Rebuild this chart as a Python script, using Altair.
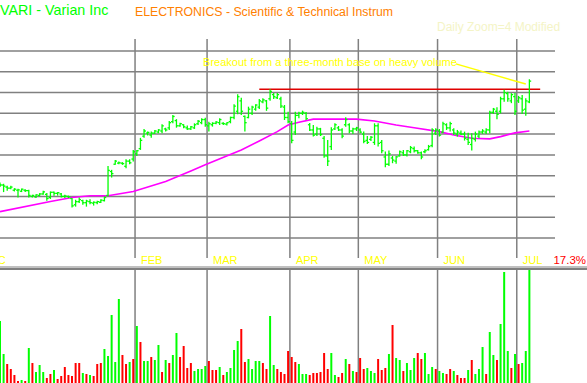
import altair as alt
import pandas as pd

# ---------------- data ----------------
high = [
    29.67, 29.61, 29.52, 29.51, 29.40, 29.37, 29.38, 29.35, 29.32, 29.08,
    29.11, 29.16, 29.27, 29.16, 29.24, 29.24, 29.21, 29.16, 29.08, 29.04,
    28.92, 28.84, 28.95, 28.84, 28.84, 28.87, 28.76, 28.79, 28.87, 29.00,
    30.47, 30.28, 30.75, 30.68, 30.65, 30.79, 30.79, 31.24, 31.24, 31.82,
    32.25, 32.12, 32.12, 32.20, 32.24, 32.48, 32.31, 32.63, 32.92, 32.72,
    32.55, 32.48, 32.41, 32.39, 32.52, 32.68, 32.76, 32.79, 32.60, 32.57,
    32.63, 32.76, 32.57, 32.57, 32.84, 33.44, 33.92, 33.75, 32.89, 33.32,
    33.37, 33.44, 33.69, 33.73, 33.64, 34.16, 33.98, 33.98, 33.80, 33.40,
    33.08, 32.63, 33.08, 33.08, 33.13, 33.07, 32.54, 32.44, 32.36, 32.30,
    31.91, 31.72, 32.33, 32.52, 32.39, 32.28, 32.81, 32.52, 32.31, 32.35,
    32.28, 32.12, 31.91, 31.91, 32.52, 32.52, 31.72, 31.16, 31.21, 30.95,
    30.95, 31.21, 31.24, 31.24, 31.43, 31.40, 31.24, 31.16, 31.27, 31.48,
    32.28, 32.28, 32.24, 32.60, 32.52, 32.60, 32.28, 32.20, 32.17, 32.12,
    32.07, 32.04, 32.12, 32.17, 32.24, 32.28, 33.13, 33.26, 33.29, 33.80,
    34.13, 34.04, 33.97, 33.98, 33.84, 33.88, 33.73, 34.64,
]
low = [
    29.45, 29.21, 29.27, 29.35, 29.24, 28.95, 29.21, 29.21, 28.95, 28.95,
    28.92, 29.00, 29.08, 28.79, 28.88, 29.03, 29.04, 28.95, 28.92, 28.92,
    28.47, 28.51, 28.68, 28.60, 28.51, 28.63, 28.56, 28.63, 28.68, 28.76,
    29.00, 29.91, 30.52, 30.55, 30.52, 30.36, 30.55, 30.68, 30.95, 31.24,
    31.82, 31.93, 31.83, 32.00, 32.04, 32.04, 32.12, 32.20, 32.52, 32.31,
    32.35, 32.28, 32.20, 32.20, 32.25, 32.44, 32.48, 32.36, 32.12, 32.36,
    32.48, 32.44, 32.44, 32.41, 32.52, 32.72, 32.96, 32.92, 32.12, 32.76,
    32.92, 33.12, 33.21, 33.49, 33.12, 33.60, 33.69, 33.69, 33.26, 32.68,
    32.52, 31.56, 31.96, 32.76, 32.92, 32.68, 32.15, 31.88, 31.91, 31.91,
    30.86, 30.47, 31.24, 32.20, 32.15, 31.80, 32.36, 32.04, 32.01, 32.15,
    32.04, 31.56, 31.53, 31.67, 31.48, 31.40, 31.08, 30.41, 30.47, 30.60,
    30.57, 30.92, 30.95, 30.92, 31.08, 31.11, 31.05, 30.79, 31.08, 31.21,
    31.37, 31.96, 31.88, 32.04, 32.20, 32.12, 31.96, 31.88, 31.96, 31.69,
    31.48, 31.21, 31.64, 31.80, 32.01, 32.01, 32.04, 32.97, 32.72, 33.00,
    33.56, 33.56, 33.49, 32.92, 33.50, 32.97, 32.88, 33.49,
]
open_ = [
    29.62, 29.55, 29.45, 29.40, 29.30, 29.30, 29.25, 29.30, 29.28, 29.00,
    28.98, 29.05, 29.12, 29.10, 28.95, 29.20, 29.15, 29.12, 29.00, 29.00,
    28.90, 28.60, 28.75, 28.80, 28.70, 28.75, 28.68, 28.70, 28.72, 28.80,
    29.05, 30.20, 30.55, 30.60, 30.60, 30.45, 30.70, 30.80, 31.05, 31.30,
    31.90, 32.05, 31.95, 32.05, 32.10, 32.15, 32.25, 32.30, 32.60, 32.65,
    32.40, 32.45, 32.30, 32.25, 32.30, 32.50, 32.55, 32.70, 32.40, 32.45,
    32.52, 32.55, 32.52, 32.48, 32.60, 32.80, 33.10, 33.60, 32.85, 32.80,
    33.00, 33.20, 33.30, 33.55, 33.60, 33.70, 33.90, 33.75, 33.70, 33.30,
    32.80, 32.50, 32.10, 32.90, 33.00, 33.00, 32.45, 32.20, 32.00, 32.25,
    31.80, 30.95, 31.40, 32.25, 32.30, 32.20, 32.45, 32.45, 32.15, 32.25,
    32.20, 32.00, 31.70, 31.75, 31.60, 32.40, 31.60, 30.90, 30.55, 30.85,
    30.70, 30.95, 31.10, 31.00, 31.15, 31.30, 31.20, 31.10, 31.15, 31.25,
    31.45, 32.05, 32.15, 32.10, 32.45, 32.30, 32.20, 32.00, 32.05, 32.00,
    31.75, 31.50, 31.75, 31.90, 32.10, 32.10, 32.20, 33.05, 33.10, 33.10,
    33.70, 33.95, 33.60, 33.80, 33.60, 33.70, 33.20, 33.55,
]
close = [
    29.55, 29.50, 29.40, 29.45, 29.35, 29.32, 29.35, 29.28, 29.05, 29.05,
    29.08, 29.12, 29.22, 28.90, 29.20, 29.15, 29.18, 29.00, 29.02, 28.98,
    28.55, 28.75, 28.85, 28.70, 28.78, 28.70, 28.72, 28.75, 28.82, 28.95,
    30.25, 30.10, 30.70, 30.62, 30.58, 30.70, 30.62, 31.15, 31.20, 31.70,
    32.15, 32.08, 32.05, 32.15, 32.20, 32.40, 32.20, 32.55, 32.85, 32.40,
    32.50, 32.35, 32.25, 32.35, 32.45, 32.62, 32.70, 32.45, 32.50, 32.52,
    32.58, 32.70, 32.50, 32.55, 32.80, 33.35, 33.80, 33.10, 32.55, 33.20,
    33.30, 33.40, 33.60, 33.65, 33.25, 34.05, 33.80, 33.90, 33.35, 32.80,
    32.60, 31.70, 32.90, 33.00, 33.05, 32.75, 32.20, 31.95, 32.25, 31.98,
    30.95, 30.70, 32.20, 32.45, 32.20, 31.90, 32.70, 32.15, 32.25, 32.30,
    32.10, 31.65, 31.60, 31.85, 32.40, 31.55, 31.20, 30.55, 31.05, 30.75,
    30.90, 31.15, 31.00, 31.20, 31.35, 31.20, 31.10, 30.90, 31.20, 31.40,
    32.20, 32.20, 31.95, 32.50, 32.30, 32.50, 32.05, 32.10, 32.00, 31.80,
    31.60, 31.80, 32.00, 32.10, 32.15, 32.20, 33.05, 33.20, 32.95, 33.70,
    34.00, 33.70, 33.90, 33.10, 33.75, 33.15, 33.60, 34.55,
]
# daily volume (thousand shares)
volume = [
    620, 290, 190, 140, 80, 20, 30, 20, 350, 200,
    110, 180, 110, 50, 90, 130, 40, 70, 160, 80,
    70, 200, 200, 100, 90, 80, 70, 190, 200, 340,
    270, 680, 210, 840, 280, 190, 210, 240, 570, 410,
    220, 220, 260, 230, 380, 110, 230, 200, 280, 500,
    260, 370, 150, 200, 120, 140, 140, 170, 220, 130,
    130, 160, 80, 110, 150, 330, 420, 540, 210, 240,
    140, 220, 220, 200, 140, 670, 180, 140, 110, 90,
    320, 260, 210, 190, 90, 90, 80, 100, 100, 110,
    300, 140, 300, 80, 60, 100, 240, 190, 120, 110,
    250, 140, 150, 120, 100, 240, 130, 150, 290, 580,
    250, 230, 120, 200, 130, 250, 300, 240, 300, 90,
    160, 140, 120, 100, 90, 140, 120, 80, 50, 50,
    130, 230, 90, 140, 360, 90, 510, 280, 230, 590,
    1110, 320, 150, 290, 190, 200, 320, 1130,
]
# G = up day (green bar), R = down day (red bar)
vol_dir = list(
    "GGRRRRGRGR" "GGGRRGRRRR" "RRRGRGRRRG" "GGGGRRGRGR" "GGRGGRGRGG"
    "RRRRGGGGRR" "RGRGGGGRRG" "GGGRRGGRRR" "RRRGGGRRRR" "RRGGRRGRGR"
    "RRGGGRRRGR" "GGRGGGRRGG" "GRGGRRGRRR" "GRGGGRGGRG" "GGRGRGGG"
)
# moving average, read at selected bars
ma_idx = [0, 14, 20, 25, 30, 37, 46, 53, 57, 67, 72, 77, 80, 83, 87, 99,
          104, 110, 115, 122, 126, 131, 136, 139, 143, 147]
ma_val = [28.27, 28.76, 28.95, 29.03, 29.03, 29.24, 29.72, 30.23, 30.52,
          31.24, 31.67, 32.12, 32.44, 32.57, 32.72, 32.72, 32.63, 32.44,
          32.31, 32.12, 31.96, 31.80, 31.77, 31.88, 32.06, 32.15]
month_names = ["DEC", "FEB", "MAR", "APR", "MAY", "JUN", "JUL"]
month_start = [-6.5, 37.5, 57.5, 80.5, 99.5, 121.5, 143.5]
grid_levels = [27, 28, 29, 30, 31, 32, 33, 34, 35, 36]
base_level = 34.16
base_from, base_to = 72, 150
note_text = "Breakout from a three-month base on heavy volume"
note_at = (56.4, 35.43)
note_line = (126.6, 35.38, 146.0, 34.41)
title_text = "VARI - Varian Inc"
group_text = "ELECTRONICS - Scientific & Technical Instrum"
info_text = "Daily  Zoom=4    Modified"
pct_text = "17.3%"

# ---------------- chart ----------------
FONT = "Liberation Sans Narrow, Arial Narrow, Liberation Sans, sans-serif"
GREEN, RED, GRID = "#00ff00", "#ff0000", "#808080"

n = len(high)
bars = pd.DataFrame({
    "i": list(range(n)), "h": high, "l": low, "o": open_, "c": close,
    "v": volume, "d": vol_dir,
})
ma = pd.DataFrame({"i": ma_idx, "m": ma_val})
months = pd.DataFrame({"m": month_names, "pos": month_start})
grid = pd.DataFrame({"lvl": grid_levels})
base = pd.DataFrame({"x0": [base_from], "x1": [base_to], "y": [base_level]})
note = pd.DataFrame({"x": [note_at[0]], "y": [note_at[1]], "t": [note_text]})
nline = pd.DataFrame({"x0": [note_line[0]], "y0": [note_line[1]],
                      "x1": [note_line[2]], "y1": [note_line[3]]})

xs = alt.Scale(domain=[0, 163], range=[0, 587], nice=False, zero=False)
ps = alt.Scale(domain=[27, 36], range=[238, 51], nice=False, zero=False)
vs = alt.Scale(domain=[0, 1140], range=[383, 269], nice=False, zero=False)


def X(f):
    return alt.X(f, scale=xs, axis=None)


def Y(f):
    return alt.Y(f, scale=ps, axis=None)


hgrid = alt.Chart(grid).mark_rule(color=GRID, strokeWidth=1.5).encode(
    y=Y("lvl:Q"), x=alt.value(0), x2=alt.value(555))

mlines = alt.Chart(months).transform_filter("datum.pos > 0")
vline_p = mlines.mark_rule(color=GRID, strokeWidth=1.5).encode(
    x=X("pos:Q"), y=alt.value(39), y2=alt.value(258))
vline_v = mlines.mark_rule(color=GRID, strokeWidth=1.5).encode(
    x=X("pos:Q"), y=alt.value(269), y2=alt.value(383))

ma_line = alt.Chart(ma).mark_line(color="#ff00ff", strokeWidth=1.6,
                                  interpolate="linear").encode(
    x=X("i:Q"), y=Y("m:Q"))

base_line = alt.Chart(base).mark_rule(color="#e00000", strokeWidth=1.5).encode(
    x=X("x0:Q"), x2="x1:Q", y=Y("y:Q"))

hl = alt.Chart(bars).mark_rule(color=GREEN, strokeWidth=1.3).encode(
    x=X("i:Q"), y=Y("l:Q"), y2="h:Q")
otick = alt.Chart(bars).transform_calculate(io="datum.i - 0.5").mark_rule(
    color=GREEN, strokeWidth=1.3).encode(x=X("io:Q"), x2="i:Q", y=Y("o:Q"))
ctick = alt.Chart(bars).transform_calculate(ic="datum.i + 0.5").mark_rule(
    color=GREEN, strokeWidth=1.3).encode(x=X("i:Q"), x2="ic:Q", y=Y("c:Q"))

vol = alt.Chart(bars).transform_calculate(z="0").mark_rule(strokeWidth=2).encode(
    x=X("i:Q"),
    y=alt.Y("v:Q", scale=vs, axis=None), y2="z:Q",
    color=alt.Color("d:N", scale=alt.Scale(domain=["G", "R"], range=[GREEN, RED]),
                    legend=None))

sep1 = alt.Chart(grid).mark_rule(color="#c0c0c0", strokeWidth=2.2).encode(
    x=alt.value(0), x2=alt.value(587), y=alt.value(267.2))
sep2 = alt.Chart(grid).mark_rule(color="#808080", strokeWidth=1.6).encode(
    x=alt.value(0), x2=alt.value(587), y=alt.value(269.2))

note_txt = alt.Chart(note).mark_text(
    font=FONT, fontSize=11, color="#ffff00", align="left", baseline="middle"
).encode(x=X("x:Q"), y=Y("y:Q"), text="t:N")
note_ln = alt.Chart(nline).mark_rule(color="#ffff00", strokeWidth=1.5).encode(
    x=X("x0:Q"), y=Y("y0:Q"), x2="x1:Q", y2="y1:Q")

mlabels = alt.Chart(months).mark_text(
    font=FONT, fontSize=11, color="#ffff00", align="left", baseline="middle", dx=6
).encode(x=X("pos:Q"), y=alt.value(261), text="m:N")


def label(txt, x, y, color, size, align="left"):
    return alt.Chart(pd.DataFrame({"t": [txt]})).mark_text(
        font=FONT, fontSize=size, color=color, align=align, baseline="middle"
    ).encode(x=alt.value(x), y=alt.value(y), text="t:N")


t1 = label(title_text, 0, 11, "#00ff00", 14.3)
t2 = label(group_text, 135, 12, "#ff8000", 12.3)
t3 = label(info_text, 437, 27, "#f4f4c6", 12)
t4 = label(pct_text, 586, 261, "#ff0000", 11.5, align="right")

chart = alt.layer(
    hgrid, vline_p, vline_v, ma_line, base_line, hl, otick, ctick, vol,
    sep1, sep2, note_ln, note_txt, mlabels, t1, t2, t3, t4,
).resolve_scale(y="independent").properties(
    width=587, height=383, padding=0, autosize="none", background="white"
).configure_view(stroke=None)

chart.save("out.html", embed_options={"renderer": "svg", "actions": False})
